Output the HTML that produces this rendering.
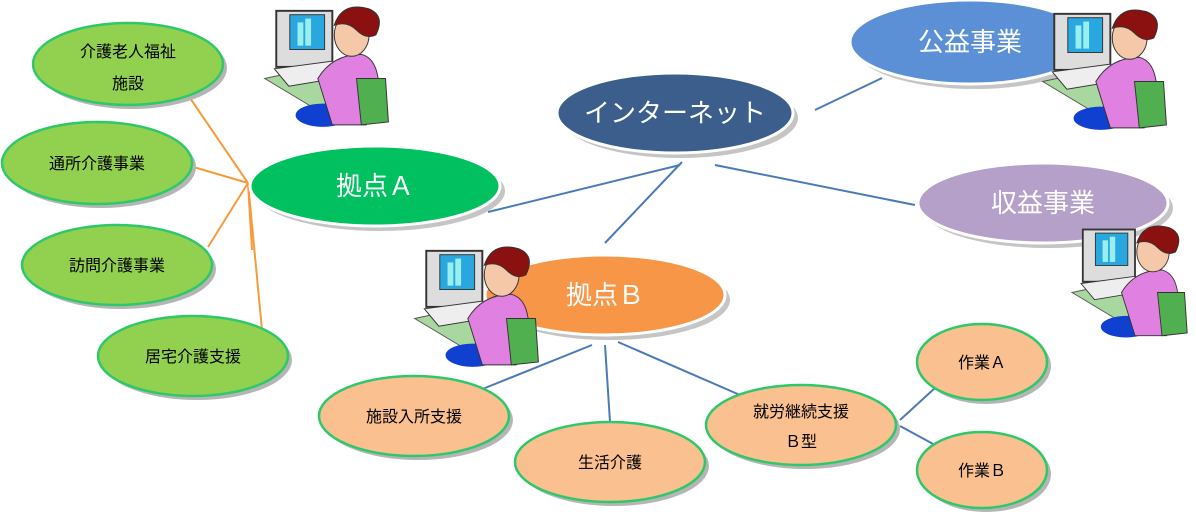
<!DOCTYPE html>
<html><head><meta charset="utf-8"><style>
body{margin:0;background:#fff}
svg text{font-family:"Liberation Sans","Noto Sans CJK JP",sans-serif}
</style></head><body>
<svg width="1196" height="516" viewBox="0 0 1196 516" xmlns="http://www.w3.org/2000/svg">
<defs>
<symbol id="p" viewBox="0 0 150 130">
<polygon points="10,80 80,65 130,90 60,110" fill="#a8d8a0" stroke="#555" stroke-width="1"/>
<rect x="22" y="10" width="58" height="58" fill="#ddd" stroke="#333" stroke-width="2"/>
<rect x="36" y="14" width="36" height="36" fill="#29a8e0" stroke="#333"/>
<rect x="44" y="22" width="6" height="24" fill="#9ee"/><rect x="52" y="18" width="6" height="28" fill="#9ee"/>
<polygon points="20,70 80,62 95,78 35,88" fill="#eee" stroke="#333"/>
<ellipse cx="70" cy="118" rx="28" ry="12" fill="#1040d0"/>
<path d="M65,80 Q80,55 110,55 Q130,60 128,100 L115,128 L80,128 Z" fill="#e080e0" stroke="#333"/>
<path d="M105,80 L135,80 L138,125 L110,128 Z" fill="#50b050" stroke="#333"/>
<ellipse cx="100" cy="35" rx="18" ry="22" fill="#f4c8a8" stroke="#333"/>
<path d="M82,25 Q90,0 118,8 Q135,15 125,35 Q115,40 105,30 Q95,20 82,25Z" fill="#8b1010" stroke="#333"/>
</symbol>
</defs>
<g stroke="#f79a3a" stroke-width="2">
<line x1="248" y1="183" x2="190" y2="98"/><line x1="248" y1="183" x2="190" y2="166"/>
<line x1="248" y1="183" x2="208" y2="247"/><line x1="248" y1="183" x2="262" y2="330"/>
<line x1="248" y1="183" x2="252" y2="250"/>
</g>
<g stroke="#4a7ab8" stroke-width="2">
<line x1="488" y1="212" x2="680" y2="165"/><line x1="682" y1="162" x2="605" y2="243"/>
<line x1="715" y1="165" x2="915" y2="205"/><line x1="815" y1="110" x2="882" y2="78"/>
<line x1="592" y1="345" x2="480" y2="390"/><line x1="605" y1="345" x2="610" y2="422"/>
<line x1="618" y1="342" x2="740" y2="395"/>
<line x1="900" y1="420" x2="935" y2="388"/><line x1="900" y1="426" x2="935" y2="445"/>
</g>
<g font-size="16" text-anchor="middle" fill="#000">
<g stroke="#2ec86a" stroke-width="2.5">
<ellipse cx="132" cy="68" rx="95" ry="41" fill="#b5b5b5" stroke="none"/>
<ellipse cx="128" cy="64" rx="95" ry="41" fill="#92d050"/>
<ellipse cx="101" cy="167" rx="95" ry="41" fill="#b5b5b5" stroke="none"/>
<ellipse cx="97" cy="163" rx="95" ry="41" fill="#92d050"/>
<ellipse cx="121" cy="269" rx="95" ry="40" fill="#b5b5b5" stroke="none"/>
<ellipse cx="117" cy="265" rx="95" ry="40" fill="#92d050"/>
<ellipse cx="197" cy="360" rx="95" ry="40" fill="#b5b5b5" stroke="none"/>
<ellipse cx="193" cy="356" rx="95" ry="40" fill="#92d050"/>
<ellipse cx="418" cy="420" rx="95" ry="40" fill="#b5b5b5" stroke="none"/>
<ellipse cx="414" cy="416" rx="95" ry="40" fill="#fac090"/>
<ellipse cx="614" cy="466" rx="95" ry="40" fill="#b5b5b5" stroke="none"/>
<ellipse cx="610" cy="462" rx="95" ry="40" fill="#fac090"/>
<ellipse cx="805" cy="429" rx="95" ry="40" fill="#b5b5b5" stroke="none"/>
<ellipse cx="801" cy="425" rx="95" ry="40" fill="#fac090"/>
<ellipse cx="986" cy="366" rx="65" ry="38" fill="#b5b5b5" stroke="none"/>
<ellipse cx="982" cy="362" rx="65" ry="38" fill="#fac090"/>
<ellipse cx="986" cy="474" rx="65" ry="38" fill="#b5b5b5" stroke="none"/>
<ellipse cx="982" cy="470" rx="65" ry="38" fill="#fac090"/>
</g>
<text x="128" y="57">介護老人福祉</text><text x="128" y="89">施設</text>
<text x="97" y="169">通所介護事業</text>
<text x="117" y="271">訪問介護事業</text>
<text x="193" y="362">居宅介護支援</text>
<text x="414" y="422">施設入所支援</text>
<text x="610" y="468">生活介護</text>
<text x="801" y="417">就労継続支援</text><text x="801" y="447">Ｂ型</text>
<text x="982" y="368">作業Ａ</text>
<text x="982" y="476">作業Ｂ</text>
</g>
<g stroke="#fff" stroke-width="3" font-size="26" text-anchor="middle">
<ellipse cx="380" cy="191" rx="125" ry="40" fill="#c5c5c5" stroke="none"/>
<ellipse cx="375" cy="186" rx="125" ry="40" fill="#00c060"/>
<ellipse cx="680" cy="118" rx="118" ry="40" fill="#c5c5c5" stroke="none"/>
<ellipse cx="675" cy="113" rx="118" ry="40" fill="#3b5e8c"/>
<ellipse cx="975" cy="47" rx="120" ry="42" fill="#c5c5c5" stroke="none"/>
<ellipse cx="970" cy="42" rx="120" ry="42" fill="#5b8fd6"/>
<ellipse cx="1048" cy="208" rx="125" ry="40" fill="#c5c5c5" stroke="none"/>
<ellipse cx="1043" cy="203" rx="125" ry="40" fill="#b4a0c8"/>
<ellipse cx="610" cy="300" rx="120" ry="40" fill="#c5c5c5" stroke="none"/>
<ellipse cx="605" cy="295" rx="120" ry="40" fill="#f79646"/>
<g fill="#fff" stroke="none">
<text x="375" y="195">拠点Ａ</text>
<text x="675" y="122">インターネット</text>
<text x="970" y="51">公益事業</text>
<text x="1043" y="212">収益事業</text>
<text x="605" y="304">拠点Ｂ</text>
</g>
</g>
<use href="#p" x="255" y="0" width="145" height="128"/>
<use href="#p" x="405" y="240" width="145" height="128"/>
<use href="#p" x="1033" y="3" width="145" height="128"/>
<use href="#p" x="1063" y="215" width="135" height="128"/>
</svg>
</body></html>
